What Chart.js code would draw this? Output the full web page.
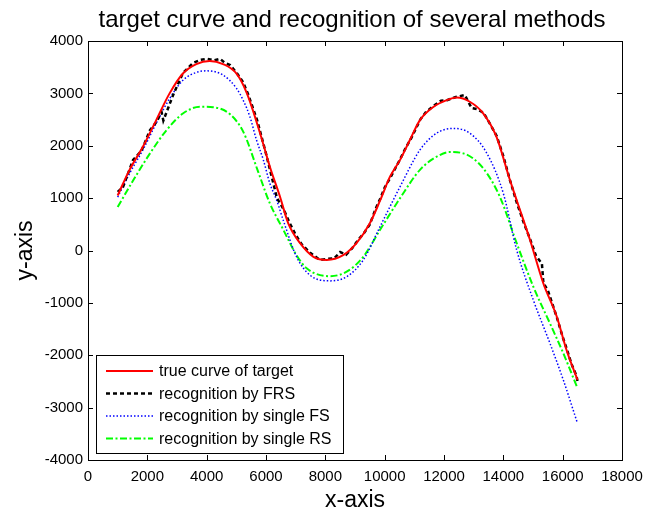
<!DOCTYPE html>
<html lang="en">
<head>
    <meta charset="UTF-8">
    <title>target curve and recognition of several methods</title>
    <script src="https://cdn.jsdelivr.net/npm/chart.js"></script>
    <style>
        html, body { margin: 0; padding: 0; background: #fff; }
        .chart-box { width: 646px; height: 512px; }
    </style>
</head>
<body>
<div class="chart-box">
    <canvas id="curveChart"></canvas>
</div>

<script>
    const chartTitle = "target curve and recognition of several methods";

    // series names, as in the legend
    const seriesLabels = ["true curve of target", "recognition by FRS", "recognition by single FS", "recognition by single RS"];

    // true curve of target
    const trueX = [1000, 1400, 1850, 2300, 2750, 3200, 3650, 4100, 4550, 5000, 5350, 5800, 6130, 6470, 6750, 7150, 7600, 8050, 8600, 9050, 9500, 9850, 10180, 10520, 10850, 11190, 11640, 12090, 12430, 12870, 13320, 13770, 14220, 14450, 14900, 15350, 15800, 16130, 16500];
    const trueY = [1050, 1540, 1980, 2490, 3000, 3380, 3560, 3620, 3560, 3380, 3010, 2240, 1600, 1030, 520, 140, -120, -180, -90, 140, 520, 960, 1410, 1730, 2110, 2490, 2740, 2870, 2920, 2840, 2620, 2170, 1350, 960, 200, -630, -1260, -1900, -2470];

    // recognition by FRS (noisy, follows the true curve)
    const frsX = [1000, 1180, 1520, 1800, 2090, 2300, 2480, 2540, 2870, 3200, 3540, 3800, 4010, 4250, 4450, 4600, 4790, 5000, 5220, 5400, 5700, 6000, 6370, 6600, 6800, 7000, 7200, 7500, 7820, 8050, 8300, 8500, 8700, 8900, 9100, 9300, 9500, 9700, 9850, 10000, 10200, 10500, 10700, 10900, 11200, 11400, 11650, 11900, 12100, 12400, 12700, 12930, 13100, 13330, 13550, 13780, 14000, 14220, 14450, 14700, 14900, 15100, 15300, 15350, 15500, 15800, 16000, 16150, 16300, 16470, 16500];
    const frsY = [1120, 1210, 1730, 1900, 2300, 2450, 2640, 2480, 2970, 3390, 3580, 3640, 3660, 3630, 3660, 3590, 3540, 3400, 3220, 2980, 2490, 1850, 1000, 780, 520, 300, 120, -50, -180, -160, -150, -30, -80, 40, 200, 330, 500, 800, 990, 1200, 1400, 1720, 1950, 2150, 2500, 2650, 2760, 2860, 2870, 2930, 2970, 2720, 2700, 2630, 2420, 2180, 1800, 1350, 920, 510, 220, -100, -250, -620, -760, -1270, -1650, -1900, -2170, -2400, -2500];

    // recognition by single FS
    const fsX = [1000, 1400, 1850, 2300, 2750, 3200, 3650, 4000, 4550, 5000, 5230, 5460, 5680, 5910, 6130, 6360, 6580, 7030, 7480, 8150, 8720, 9280, 9840, 10520, 11190, 11750, 12310, 12870, 13440, 14000, 14450, 15010, 15570, 16020, 16500];
    const fsY = [1020, 1470, 1920, 2430, 2900, 3250, 3400, 3430, 3350, 3100, 2870, 2550, 2110, 1730, 1280, 960, 580, -120, -470, -580, -500, -180, 450, 1220, 1920, 2240, 2330, 2240, 1860, 1090, 10, -945, -1770, -2470, -3300];

    // recognition by single RS
    const rsX = [1000, 1530, 2090, 2650, 3210, 3780, 4220, 4790, 5240, 5700, 6130, 6580, 7030, 7370, 8160, 8720, 9280, 9840, 10520, 11190, 11750, 12200, 12650, 13320, 13880, 14450, 15010, 15570, 16020, 16500];
    const rsY = [830, 1345, 1855, 2300, 2620, 2745, 2735, 2600, 2260, 1560, 900, 400, -90, -340, -490, -405, -120, 390, 1000, 1540, 1790, 1880, 1855, 1570, 1030, 140, -690, -1390, -1960, -2630];

    const fontFamily = "'Liberation Sans', Arial, sans-serif";

    function toPoints(xs, ys) {
        return xs.map((x, i) => ({ x: x, y: ys[i] }));
    }

    // MATLAB style box with inward ticks on all four sides, title centred over the axes
    const boxPlugin = {
        id: 'boxTicks',
        afterDraw(chart) {
            const ctx = chart.ctx;
            const a = chart.chartArea;
            const xs = chart.scales.x, ys = chart.scales.y;
            const len = 5;
            ctx.save();
            ctx.strokeStyle = '#000';
            ctx.lineWidth = 1;
            ctx.strokeRect(a.left + 0.5, a.top + 0.5, a.right - a.left, a.bottom - a.top);
            ctx.beginPath();
            xs.ticks.forEach(t => {
                const px = Math.round(xs.getPixelForValue(t.value)) + 0.5;
                ctx.moveTo(px, a.bottom); ctx.lineTo(px, a.bottom - len);
                ctx.moveTo(px, a.top); ctx.lineTo(px, a.top + len);
            });
            ys.ticks.forEach(t => {
                const py = Math.round(ys.getPixelForValue(t.value)) + 0.5;
                ctx.moveTo(a.left, py); ctx.lineTo(a.left + len, py);
                ctx.moveTo(a.right, py); ctx.lineTo(a.right - len, py);
            });
            ctx.stroke();

            ctx.fillStyle = '#000';
            ctx.font = "24px " + fontFamily;
            ctx.textAlign = 'center';
            ctx.textBaseline = 'alphabetic';
            ctx.fillText(chartTitle, (a.left + a.right) / 2 - 3, 27);
            ctx.restore();
        }
    };

    // legend drawn inside the plot, lower left corner
    const insideLegend = {
        id: 'insideLegend',
        afterDatasetsDraw(chart) {
            const ctx = chart.ctx;
            const a = chart.chartArea;
            const w = 247, h = 98;
            const left = a.left + 8, top = a.bottom - 7 - h;
            ctx.save();
            ctx.fillStyle = '#fff';
            ctx.fillRect(left, top, w, h);
            ctx.strokeStyle = '#000';
            ctx.lineWidth = 1;
            ctx.strokeRect(left + 0.5, top + 0.5, w, h);
            ctx.font = "16px " + fontFamily;
            ctx.textBaseline = 'middle';
            chart.data.datasets.forEach((ds, i) => {
                const y = top + 16 + i * 22.5;
                ctx.beginPath();
                ctx.strokeStyle = ds.borderColor;
                ctx.lineWidth = ds.borderWidth;
                ctx.setLineDash(ds.borderDash || []);
                ctx.moveTo(left + 10, y);
                ctx.lineTo(left + 57, y);
                ctx.stroke();
                ctx.setLineDash([]);
                ctx.fillStyle = '#000';
                ctx.fillText(ds.label, left + 63, y + 1);
            });
            ctx.restore();
        }
    };

    const curveChart = new Chart(document.getElementById("curveChart"), {
        type: 'line',
        data: {
            datasets: [
                {
                    label: seriesLabels[0],
                    data: toPoints(trueX, trueY),
                    borderColor: '#ff0000',
                    borderWidth: 2,
                    tension: 0.4,
                    cubicInterpolationMode: 'monotone'
                },
                {
                    label: seriesLabels[1],
                    data: toPoints(frsX, frsY),
                    borderColor: '#000000',
                    borderWidth: 2.5,
                    borderDash: [4, 3],
                    tension: 0
                },
                {
                    label: seriesLabels[2],
                    data: toPoints(fsX, fsY),
                    borderColor: '#0000ff',
                    borderWidth: 1.5,
                    borderDash: [1.5, 2],
                    tension: 0.4,
                    cubicInterpolationMode: 'monotone'
                },
                {
                    label: seriesLabels[3],
                    data: toPoints(rsX, rsY),
                    borderColor: '#00ff00',
                    borderWidth: 2,
                    borderDash: [7, 2.5, 2, 2.5],
                    tension: 0.4,
                    cubicInterpolationMode: 'monotone'
                }
            ]
        },
        options: {
            responsive: true,
            maintainAspectRatio: false,
            animation: false,
            elements: { point: { radius: 0 } },
            layout: { padding: { top: 41, right: 24, bottom: 0, left: 0 } },
            plugins: {
                legend: { display: false },
                tooltip: { enabled: false },
                title: { display: false }
            },
            scales: {
                x: {
                    type: 'linear',
                    min: 0,
                    max: 18000,
                    grid: { display: false, drawTicks: false, tickLength: 0 },
                    border: { display: false },
                    ticks: {
                        stepSize: 2000,
                        color: '#000',
                        padding: 8,
                        maxRotation: 0,
                        font: { family: fontFamily, size: 15 },
                        callback: v => String(v)
                    },
                    title: {
                        display: true,
                        text: 'x-axis',
                        color: '#000',
                        font: { family: fontFamily, size: 23, lineHeight: 1 },
                        padding: { top: 0, bottom: 0 }
                    },
                    afterFit: scale => {
                        scale.height = 52;
                        scale.paddingLeft = 0;
                        scale.paddingRight = 0;
                    }
                },
                y: {
                    type: 'linear',
                    min: -4000,
                    max: 4000,
                    grid: { display: false, drawTicks: false, tickLength: 0 },
                    border: { display: false },
                    ticks: {
                        stepSize: 1000,
                        color: '#000',
                        padding: 5,
                        font: { family: fontFamily, size: 15 },
                        callback: v => String(v)
                    },
                    title: {
                        display: true,
                        text: 'y-axis',
                        color: '#000',
                        font: { family: fontFamily, size: 23, lineHeight: 1 },
                        padding: { top: 14, bottom: 0 }
                    },
                    afterFit: scale => {
                        scale.width = 88;
                        scale.paddingTop = 0;
                        scale.paddingBottom = 0;
                    }
                }
            }
        },
        plugins: [boxPlugin, insideLegend]
    });
</script>
</body>
</html>
